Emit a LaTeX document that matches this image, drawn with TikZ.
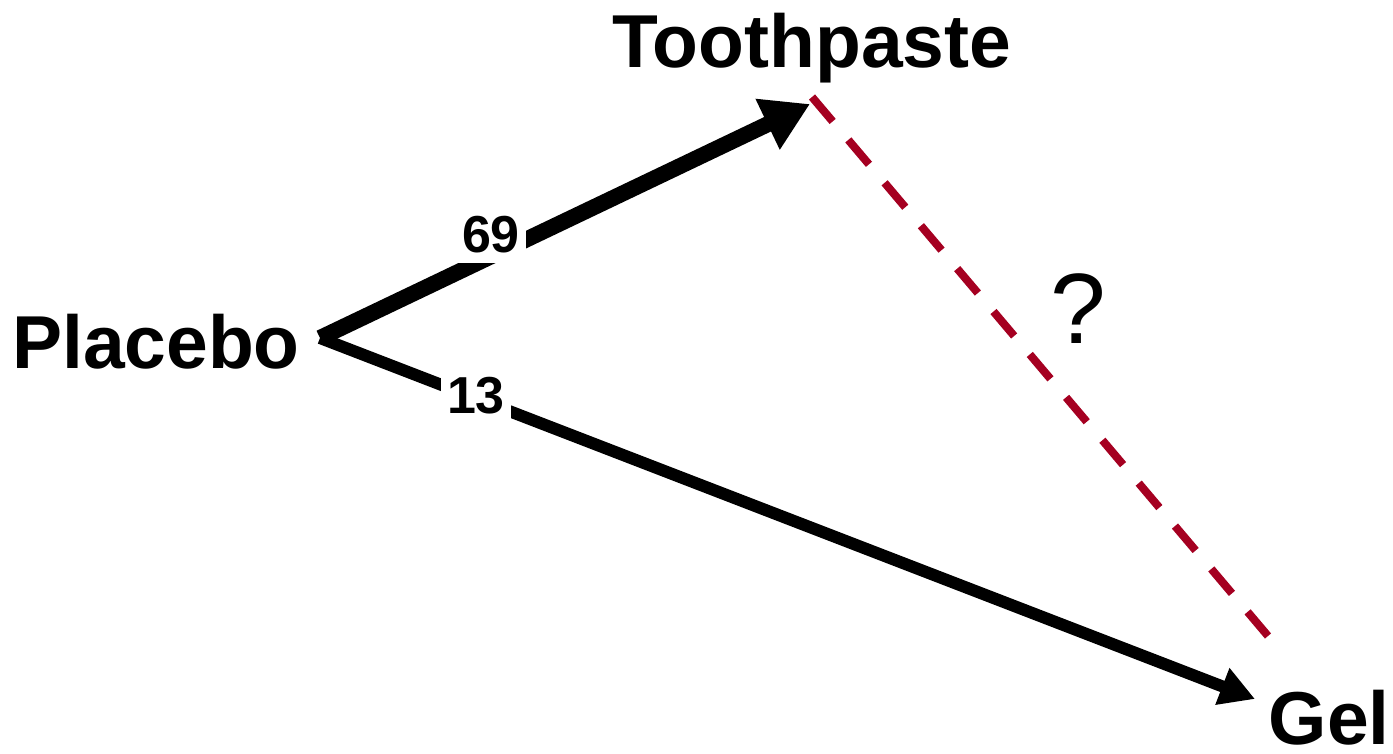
\documentclass[tikz,border=0pt]{standalone}
\usepackage{fontspec}
\setmainfont{Liberation Sans}
\usetikzlibrary{arrows.meta}
\definecolor{dashred}{RGB}{165,0,33}
\begin{document}
\begin{tikzpicture}[x=1pt,y=-1pt,
  term/.style={font=\fontsize{75}{82}\selectfont\bfseries, inner sep=0pt},
  count/.style={font=\fontsize{52}{56}\selectfont\bfseries, fill=white,
                inner xsep=6pt, inner ysep=9pt},
  bigarrow/.style={line width=16pt, -{Triangle[length=47pt,width=53pt]}},
  smallarrow/.style={line width=12pt, -{Triangle[length=35pt,width=37pt]}},
  unknown/.style={dashred, line width=8pt, dash pattern=on 32pt off 24.2pt}]
  \useasboundingbox (0,0) rectangle (1393,754);

  % treatment names
  \node[term, anchor=base east]   (placebo)    at (300,368)  {Placebo};
  \node[term, anchor=base]        (toothpaste) at (812,68)   {Toothpaste};
  \node[term, anchor=base east]   (gel)        at (1390,744) {Gel};

  % arrow end points beside the names
  \coordinate (p) at (320,338);
  \coordinate (t) at (810,104);
  \coordinate (g) at (1255,699);
  \coordinate (tq) at (812,97);
  \coordinate (gq) at (1268,636);

  % direct comparisons
  \draw[bigarrow]   (p) -- (t);
  \draw[smallarrow] (p) -- (g);

  % indirect comparison
  \draw[unknown] (tq) -- (gq);
  \node[font=\fontsize{100}{110}\selectfont, inner sep=0pt, anchor=base] (q) at (1078,343) {?};

  % numbers of trials
  \node[count, anchor=base] (n69) at (491,253) {69};
  \node[count, anchor=base] (n13) at (476,413) {13};
\end{tikzpicture}
\end{document}
